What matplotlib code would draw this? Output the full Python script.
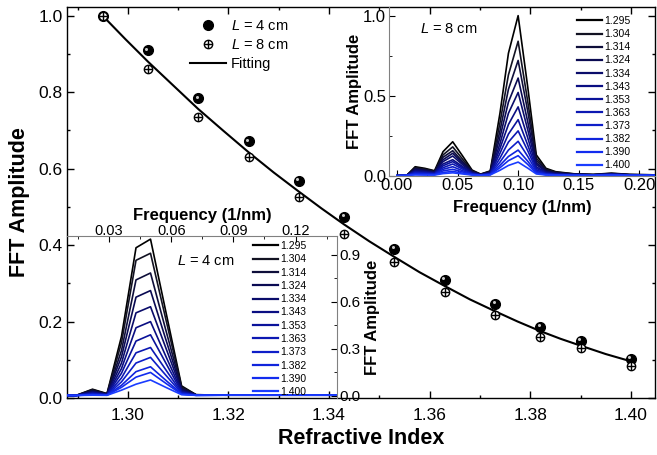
import numpy as np
import matplotlib
matplotlib.use('Agg')
import matplotlib.pyplot as plt
import matplotlib.transforms as mtransforms
from matplotlib.legend_handler import HandlerTuple
from matplotlib.ticker import MultipleLocator, FormatStrFormatter

plt.rcParams['font.family'] = ['Liberation Sans', 'DejaVu Sans']
plt.rcParams['mathtext.fontset'] = 'custom'
plt.rcParams['mathtext.it'] = 'Liberation Sans:italic'
plt.rcParams['mathtext.rm'] = 'Liberation Sans'

# main panel: normalised FFT peak amplitude vs refractive index
n_index = [1.295, 1.304, 1.314, 1.324, 1.334, 1.343, 1.353, 1.363, 1.373, 1.382, 1.390, 1.400]
amp_4cm = [1.0, 0.910, 0.784, 0.672, 0.569, 0.474, 0.390, 0.309, 0.246, 0.186, 0.150, 0.102]
amp_8cm = [1.0, 0.861, 0.736, 0.631, 0.525, 0.430, 0.357, 0.278, 0.217, 0.160, 0.130, 0.085]

fit_x = [1.295, 1.2995, 1.304, 1.309, 1.314, 1.319, 1.324, 1.329, 1.334, 1.3385, 1.343, 1.348,
         1.353, 1.358, 1.363, 1.368, 1.373, 1.3775, 1.382, 1.386, 1.390, 1.395, 1.400]
fit_y = [1.0, 0.939, 0.880, 0.818, 0.756, 0.699, 0.643, 0.590, 0.540, 0.496, 0.454, 0.410,
         0.369, 0.329, 0.293, 0.258, 0.227, 0.200, 0.175, 0.155, 0.137, 0.115, 0.096]

# upper inset, L = 8 cm (one row per frequency, one value per index)
freq8 = [0.000, 0.008, 0.015, 0.023, 0.031, 0.038, 0.046, 0.054, 0.062, 0.069, 0.077, 0.085,
         0.092, 0.100, 0.108, 0.115, 0.123, 0.131, 0.146, 0.162, 0.177, 0.192, 0.215]
amp8_rows = [
    [0.000, 0.000, 0.000, 0.000, 0.000, 0.000, 0.000, 0.000, 0.000, 0.000, 0.000, 0.000],
    [0.002, 0.002, 0.002, 0.002, 0.002, 0.002, 0.002, 0.002, 0.002, 0.002, 0.002, 0.002],
    [0.056, 0.050, 0.045, 0.040, 0.035, 0.030, 0.025, 0.020, 0.016, 0.012, 0.008, 0.005],
    [0.046, 0.041, 0.037, 0.033, 0.029, 0.025, 0.021, 0.017, 0.013, 0.010, 0.007, 0.004],
    [0.031, 0.028, 0.025, 0.022, 0.020, 0.017, 0.014, 0.012, 0.010, 0.008, 0.006, 0.004],
    [0.150, 0.130, 0.115, 0.100, 0.088, 0.073, 0.062, 0.050, 0.040, 0.030, 0.020, 0.013],
    [0.212, 0.180, 0.156, 0.140, 0.123, 0.100, 0.088, 0.073, 0.056, 0.040, 0.027, 0.018],
    [0.125, 0.105, 0.090, 0.080, 0.070, 0.058, 0.050, 0.042, 0.032, 0.024, 0.016, 0.011],
    [0.035, 0.030, 0.027, 0.024, 0.021, 0.018, 0.015, 0.012, 0.010, 0.008, 0.006, 0.004],
    [0.010, 0.009, 0.008, 0.007, 0.006, 0.005, 0.005, 0.004, 0.004, 0.003, 0.003, 0.002],
    [0.030, 0.027, 0.024, 0.021, 0.018, 0.016, 0.014, 0.012, 0.010, 0.008, 0.006, 0.005],
    [0.390, 0.330, 0.280, 0.240, 0.200, 0.170, 0.140, 0.110, 0.085, 0.065, 0.050, 0.034],
    [0.765, 0.630, 0.540, 0.460, 0.390, 0.320, 0.260, 0.210, 0.160, 0.120, 0.094, 0.064],
    [1.000, 0.840, 0.720, 0.610, 0.520, 0.430, 0.350, 0.280, 0.215, 0.160, 0.125, 0.085],
    [0.550, 0.460, 0.400, 0.335, 0.285, 0.235, 0.190, 0.155, 0.120, 0.090, 0.070, 0.047],
    [0.130, 0.110, 0.095, 0.080, 0.070, 0.056, 0.046, 0.036, 0.028, 0.021, 0.016, 0.011],
    [0.046, 0.040, 0.034, 0.029, 0.025, 0.020, 0.016, 0.013, 0.010, 0.008, 0.006, 0.004],
    [0.025, 0.022, 0.019, 0.016, 0.014, 0.011, 0.009, 0.007, 0.006, 0.005, 0.004, 0.003],
    [0.012, 0.011, 0.010, 0.009, 0.008, 0.007, 0.006, 0.005, 0.004, 0.003, 0.003, 0.002],
    [0.008, 0.007, 0.006, 0.006, 0.005, 0.005, 0.004, 0.004, 0.003, 0.003, 0.002, 0.002],
    [0.016, 0.014, 0.012, 0.011, 0.010, 0.009, 0.008, 0.007, 0.006, 0.005, 0.004, 0.003],
    [0.008, 0.007, 0.006, 0.006, 0.005, 0.005, 0.004, 0.004, 0.003, 0.003, 0.002, 0.002],
    [0.005, 0.005, 0.004, 0.004, 0.004, 0.003, 0.003, 0.003, 0.002, 0.002, 0.002, 0.002],
]

# lower inset, L = 4 cm
freq4 = [0.007, 0.014, 0.022, 0.029, 0.036, 0.043, 0.050, 0.058, 0.065, 0.072, 0.086, 0.101,
         0.115, 0.130, 0.144]
amp4_rows = [
    [0.004, 0.004, 0.004, 0.004, 0.004, 0.004, 0.004, 0.004, 0.004, 0.004, 0.004, 0.004],
    [0.003, 0.003, 0.003, 0.003, 0.003, 0.003, 0.003, 0.003, 0.003, 0.003, 0.003, 0.003],
    [0.043, 0.040, 0.035, 0.030, 0.026, 0.022, 0.018, 0.015, 0.012, 0.009, 0.007, 0.005],
    [0.015, 0.013, 0.012, 0.011, 0.010, 0.009, 0.008, 0.007, 0.006, 0.005, 0.005, 0.004],
    [0.380, 0.340, 0.290, 0.250, 0.210, 0.175, 0.145, 0.115, 0.090, 0.068, 0.055, 0.037],
    [0.945, 0.865, 0.740, 0.630, 0.530, 0.435, 0.350, 0.275, 0.210, 0.155, 0.120, 0.075],
    [1.000, 0.910, 0.784, 0.672, 0.569, 0.474, 0.390, 0.309, 0.246, 0.186, 0.150, 0.102],
    [0.500, 0.455, 0.390, 0.335, 0.285, 0.235, 0.195, 0.155, 0.123, 0.093, 0.075, 0.051],
    [0.064, 0.057, 0.050, 0.043, 0.037, 0.031, 0.026, 0.021, 0.017, 0.013, 0.011, 0.008],
    [0.008, 0.008, 0.007, 0.007, 0.006, 0.006, 0.005, 0.005, 0.005, 0.004, 0.004, 0.004],
    [0.005, 0.005, 0.005, 0.005, 0.005, 0.005, 0.005, 0.005, 0.005, 0.005, 0.005, 0.005],
    [0.005, 0.005, 0.005, 0.005, 0.005, 0.005, 0.005, 0.005, 0.005, 0.005, 0.005, 0.005],
    [0.005, 0.005, 0.005, 0.005, 0.005, 0.005, 0.005, 0.005, 0.005, 0.005, 0.005, 0.005],
    [0.005, 0.005, 0.005, 0.005, 0.005, 0.005, 0.005, 0.005, 0.005, 0.005, 0.005, 0.005],
    [0.005, 0.005, 0.005, 0.005, 0.005, 0.005, 0.005, 0.005, 0.005, 0.005, 0.005, 0.005],
]

line_colors = ['#000000', '#121222', '#0e0e3a', '#0a0a52', '#0a0c6a', '#0a0e82',
               '#0a129a', '#0c18b2', '#0e1ec8', '#1024dc', '#122cee', '#1a3cff']
index_labels = ['%.3f' % n for n in n_index]
frame_gray = '#808080'

fig = plt.figure(figsize=(6.57, 4.55), dpi=100)

# ---- main axes
ax = fig.add_axes([67 / 657, 57 / 455, 588 / 657, 391 / 455])
h_fit, = ax.plot(fit_x, fit_y, color='k', lw=1.5, zorder=2)
h4, = ax.plot(n_index, amp_4cm, 'o', ms=7, color='k', zorder=3)
shine = mtransforms.offset_copy(ax.transData, fig=fig, x=-1.1, y=1.1, units='points')
ax.plot(n_index, amp_4cm, 'o', ms=2.2, color='#c8c8c8', mec='none', transform=shine, zorder=3.5)
h8c, = ax.plot(n_index, amp_8cm, 'o', ms=6, mfc='white', mec='k', mew=1.0, zorder=4)
h8p, = ax.plot(n_index, amp_8cm, '+', ms=6, color='k', mew=1.0, zorder=4.5)

ax.set_xlim(1.2879, 1.4048)
ax.set_ylim(0, 1.023)
ax.xaxis.set_major_locator(MultipleLocator(0.02))
ax.xaxis.set_minor_locator(MultipleLocator(0.01))
ax.yaxis.set_major_locator(MultipleLocator(0.2))
ax.yaxis.set_minor_locator(MultipleLocator(0.1))
ax.xaxis.set_major_formatter(FormatStrFormatter('%.2f'))
ax.yaxis.set_major_formatter(FormatStrFormatter('%.1f'))
ax.tick_params(which='both', direction='in', top=True, right=True, width=1.0, labelsize=12.5)
ax.tick_params(axis='x', pad=7)
ax.tick_params(axis='y', pad=3)
ax.tick_params(which='major', length=5)
ax.tick_params(which='minor', length=2.5)
for s in ax.spines.values():
    s.set_linewidth(1.0)
ax.set_xlabel('Refractive Index', fontsize=15.5, fontweight='bold', labelpad=4)
ax.set_ylabel('FFT Amplitude', fontsize=15.5, fontweight='bold', labelpad=6)

ax.legend([h4, (h8c, h8p), h_fit], ['$L$ = 4 cm', '$L$ = 8 cm', 'Fitting'],
          handler_map={tuple: HandlerTuple(ndivide=1)},
          loc='upper left', bbox_to_anchor=(0.209, 0.970), frameon=False, fontsize=10.5,
          handlelength=2.5, handletextpad=0.3, labelspacing=0.35, borderpad=0, borderaxespad=0)

# ---- upper right inset (L = 8 cm)
axu = fig.add_axes([389 / 657, 279.3 / 455, 266 / 657, 168.7 / 455], facecolor='none')
amp8 = np.array(amp8_rows).T
for i in range(len(n_index)):
    axu.plot(freq8, amp8[i], color=line_colors[i], lw=1.2, label=index_labels[i])
axu.set_xlim(-0.0066, 0.213)
axu.set_ylim(0, 1.054)
axu.xaxis.set_major_locator(MultipleLocator(0.05))
axu.xaxis.set_minor_locator(MultipleLocator(0.025))
axu.yaxis.set_major_locator(MultipleLocator(0.5))
axu.yaxis.set_minor_locator(MultipleLocator(0.25))
axu.xaxis.set_major_formatter(FormatStrFormatter('%.2f'))
axu.yaxis.set_major_formatter(FormatStrFormatter('%.1f'))
axu.tick_params(which='both', direction='in', labelsize=12, pad=2)
axu.tick_params(which='major', length=4)
axu.tick_params(which='minor', length=2)
axu.spines['top'].set_visible(False)
axu.spines['right'].set_visible(False)
axu.spines['left'].set_color(frame_gray)
axu.spines['bottom'].set_color(frame_gray)
axu.set_xlabel('Frequency (1/nm)', fontsize=12, fontweight='bold', labelpad=5)
axu.set_ylabel('FFT Amplitude', fontsize=12, fontweight='bold', labelpad=1)
axu.text(0.117, 0.87, '$L$ = 8 cm', transform=axu.transAxes, fontsize=10.5, va='center')
leg_u = axu.legend(loc='upper left', bbox_to_anchor=(0.707, 0.946), frameon=False, fontsize=7.5,
                   handlelength=2.4, handletextpad=0.2, labelspacing=0.3, borderpad=0,
                   borderaxespad=0)
for ln in leg_u.get_lines():
    ln.set_linewidth(1.6)

# ---- lower left inset (L = 4 cm)
axl = fig.add_axes([67 / 657, 57 / 455, 270 / 657, 162 / 455], facecolor='none')
amp4 = np.array(amp4_rows).T
for i in range(len(n_index)):
    axl.plot(freq4, amp4[i], color=line_colors[i], lw=1.2, label=index_labels[i])
axl.set_xlim(0.0097, 0.140)
axl.set_ylim(-0.013, 1.02)
axl.xaxis.tick_top()
axl.xaxis.set_label_position('top')
axl.yaxis.tick_right()
axl.yaxis.set_label_position('right')
axl.xaxis.set_major_locator(MultipleLocator(0.03))
axl.xaxis.set_minor_locator(MultipleLocator(0.015))
axl.yaxis.set_major_locator(MultipleLocator(0.3))
axl.yaxis.set_minor_locator(MultipleLocator(0.15))
axl.xaxis.set_major_formatter(FormatStrFormatter('%.2f'))
axl.yaxis.set_major_formatter(FormatStrFormatter('%.1f'))
axl.tick_params(which='both', direction='in')
axl.tick_params(axis='x', labelsize=10.5, pad=-1.5)
axl.tick_params(axis='y', labelsize=11, pad=2)
axl.tick_params(which='major', length=4)
axl.tick_params(which='minor', length=2)
axl.spines['left'].set_visible(False)
axl.spines['bottom'].set_visible(False)
axl.spines['top'].set_color(frame_gray)
axl.spines['right'].set_color(frame_gray)
axl.set_xlabel('Frequency (1/nm)', fontsize=12, fontweight='bold', labelpad=3)
axl.set_ylabel('FFT Amplitude', fontsize=12, fontweight='bold', labelpad=3)
axl.text(0.407, 0.846, '$L$ = 4 cm', transform=axl.transAxes, fontsize=10.5, va='center')
leg_l = axl.legend(loc='upper left', bbox_to_anchor=(0.689, 0.969), frameon=False, fontsize=7.5,
                   handlelength=2.4, handletextpad=0.2, labelspacing=0.315, borderpad=0,
                   borderaxespad=0)
for ln in leg_l.get_lines():
    ln.set_linewidth(1.6)

fig.savefig('out.png', dpi=100)
